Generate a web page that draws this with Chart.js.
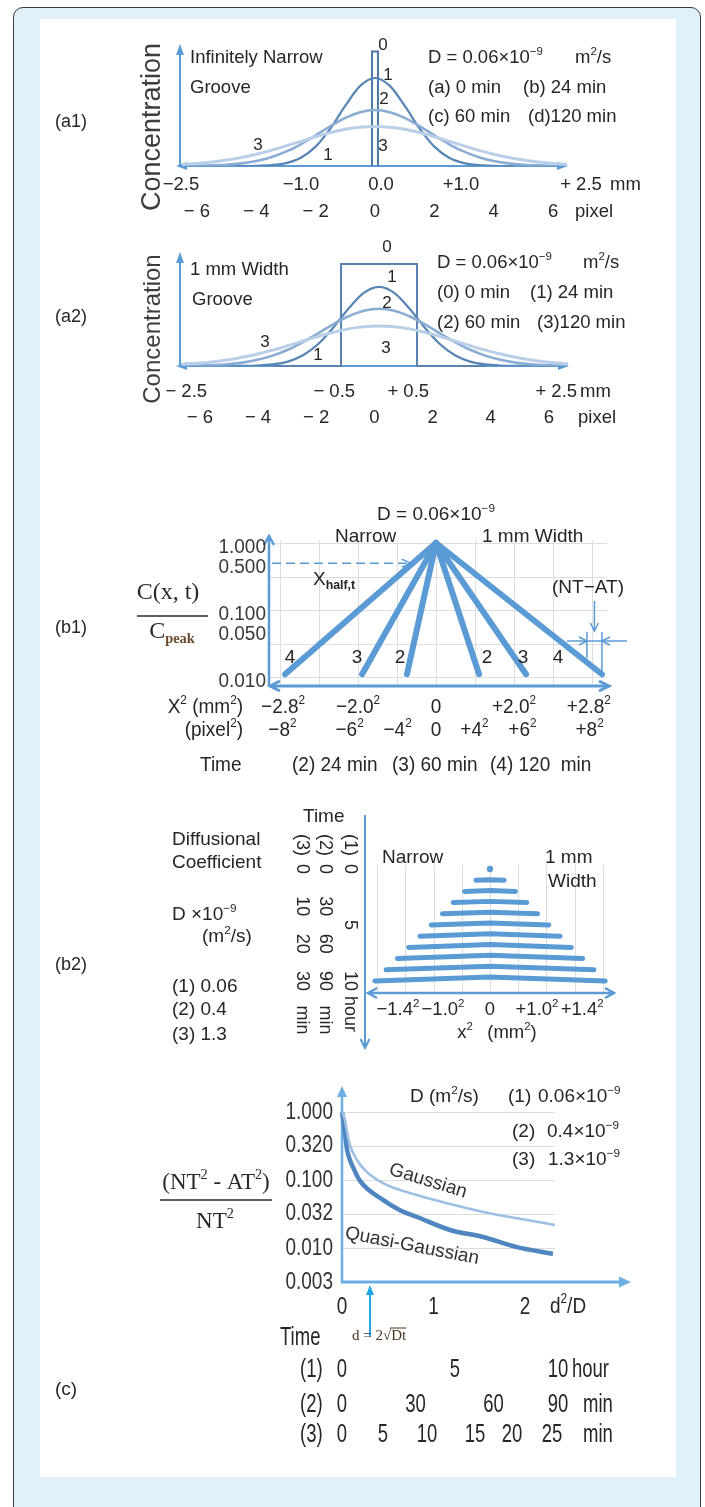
<!DOCTYPE html>
<html>
<head>
<meta charset="utf-8">
<title>Groove diffusion profiles</title>
<script src="https://cdn.jsdelivr.net/npm/chart.js@4.4.1/dist/chart.umd.min.js"></script>
<style>
  html, body { margin: 0; padding: 0; background: #ffffff; }
  #page { position: relative; width: 705px; height: 1507px; overflow: hidden; }
  #frame { position: absolute; left: 13px; top: 7px; width: 688px; height: 1560px; box-sizing: border-box;
           border: 1.5px solid #3c3c3c; border-radius: 10px; background: #e0f1fb; }
  #sheet { position: absolute; left: 40px; top: 19px; width: 636px; height: 1458px; background: #ffffff; }
  canvas { position: absolute; left: 0; top: 0; }
</style>
</head>
<body>
<div id="page">
  <div id="frame"></div>
  <div id="sheet"></div>
  <canvas id="cA1" width="705" height="1507"></canvas>
  <canvas id="cA2" width="705" height="1507"></canvas>
  <canvas id="cB1" width="705" height="1507"></canvas>
  <canvas id="cB2" width="705" height="1507"></canvas>
  <canvas id="cC" width="705" height="1507"></canvas>
</div>
<script>
// ---------- (a1) infinitely narrow groove: concentration vs position (pixel units) ----------
const a1X    = [-6.5, -6, -5.5, -5, -4.5, -4, -3.5, -3, -2.5, -2, -1.5, -1, -0.5, 0, 0.5, 1, 1.5, 2, 2.5, 3, 3.5, 4, 4.5, 5, 5.5, 6, 6.5];
const a1C24  = [0, 0, 0, 0, 0, 0.002, 0.010, 0.033, 0.094, 0.220, 0.427, 0.685, 0.910, 1.000, 0.910, 0.685, 0.427, 0.220, 0.094, 0.033, 0.010, 0.002, 0, 0, 0, 0, 0];
const a1C60  = [0.001, 0.003, 0.007, 0.015, 0.030, 0.057, 0.100, 0.163, 0.247, 0.348, 0.453, 0.547, 0.612, 0.636, 0.612, 0.547, 0.453, 0.348, 0.247, 0.163, 0.100, 0.057, 0.030, 0.015, 0.007, 0.003, 0.001];
const a1C120 = [0.018, 0.029, 0.046, 0.068, 0.097, 0.134, 0.178, 0.228, 0.280, 0.332, 0.380, 0.417, 0.441, 0.450, 0.441, 0.417, 0.380, 0.332, 0.280, 0.228, 0.178, 0.134, 0.097, 0.068, 0.046, 0.029, 0.018];
const a1GrooveX = [-0.1, -0.1, 0.1, 0.1];
const a1GrooveC = [0, 1.30, 1.30, 0];
const a1MmTicks  = [-2.5, -1, 0, 1, 2.5];
const a1MmLabels = ['−2.5', '−1.0', '0.0', '+1.0', '+ 2.5'];
const a1PxTicks  = [-6, -4, -2, 0, 2, 4, 6];
const a1PxLabels = ['− 6', '− 4', '− 2', '0', '2', '4', '6'];

// ---------- (a2) 1 mm wide groove: concentration vs position (mm) ----------
const a2X    = [-2.6, -2.4, -2.2, -2.0, -1.8, -1.6, -1.4, -1.2, -1.0, -0.8, -0.6, -0.4, -0.2, 0, 0.2, 0.4, 0.6, 0.8, 1.0, 1.2, 1.4, 1.6, 1.8, 2.0, 2.2, 2.4, 2.6];
const a2C24  = [0, 0, 0, 0, 0.001, 0.005, 0.018, 0.050, 0.122, 0.250, 0.438, 0.654, 0.831, 0.900, 0.831, 0.654, 0.438, 0.250, 0.122, 0.050, 0.018, 0.005, 0.001, 0, 0, 0, 0];
const a2C60  = [0.002, 0.004, 0.010, 0.020, 0.038, 0.070, 0.118, 0.185, 0.272, 0.372, 0.475, 0.565, 0.628, 0.650, 0.628, 0.565, 0.475, 0.372, 0.272, 0.185, 0.118, 0.070, 0.038, 0.020, 0.010, 0.004, 0.002];
const a2C120 = [0.019, 0.030, 0.046, 0.069, 0.099, 0.136, 0.180, 0.231, 0.284, 0.336, 0.384, 0.422, 0.446, 0.455, 0.446, 0.422, 0.384, 0.336, 0.284, 0.231, 0.180, 0.136, 0.099, 0.069, 0.046, 0.030, 0.019];
const a2BoxX = [-1.4, -0.5, -0.5, 0.5, 0.5, 1.4];
const a2BoxC = [0, 0, 1.16, 1.16, 0, 0];
const a2MmTicks  = [-2.5, -0.5, 0.5, 2.5];
const a2MmLabels = ['− 2.5', '− 0.5', '+ 0.5', '+ 2.5'];
const a2PxTicks  = [-6, -4, -2, 0, 2, 4, 6];
const a2PxLabels = ['− 6', '− 4', '− 2', '0', '2', '4', '6'];

// ---------- (b1) log C/Cpeak vs signed x² ----------
const b1NarrowEnd  = [-1.49, -3.79, -7.74];      // x² (mm²) where the narrow-groove line reaches b1EndLevel (24, 60, 120 min)
const b1WidthEnd   = [2.21, 4.62, 8.51];         // same for the 1 mm groove
const b1EndLevel   = 0.011;
const b1YTicks     = [1, 0.5, 0.1, 0.05, 0.01];
const b1YLabels    = ['1.000', '0.500', '0.100', '0.050', '0.010'];
const b1XTicks     = [-7.84, -4, 0, 4, 7.84];
const b1XLabels    = ['−2.8^{2}', '−2.0^{2}', '0', '+2.0^{2}', '+2.8^{2}'];
const b1PxTicks    = [-64, -36, -16, 0, 16, 36, 64];
const b1PxLabels   = ['−8^{2}', '−6^{2}', '−4^{2}', '0', '+4^{2}', '+6^{2}', '+8^{2}'];
const b1GridX      = [-8, -6, -4, -2, 0, 2, 4, 6, 8];
const b1GridY      = [1, 0.316, 0.1, 0.0316, 0.01];

// ---------- (b2) stacked profiles vs time ----------
const b2Hours     = [0, 1, 2, 3, 4, 5, 6, 7, 8, 9, 10];
const b2HalfWidth = [0, 0.30, 0.54, 0.78, 1.01, 1.25, 1.49, 1.73, 1.97, 2.21, 2.45];
const b2Rise      = [0, 0.04, 0.07, 0.11, 0.14, 0.18, 0.22, 0.25, 0.29, 0.32, 0.36];
const b2XTicks    = [-1.96, -1, 0, 1, 1.96];
const b2XLabels   = ['−1.4^{2}', '−1.0^{2}', '0', '+1.0^{2}', '+1.4^{2}'];
const b2GridX     = [-2.4, -1.8, -1.2, -0.6, 0, 0.6, 1.2, 1.8, 2.4];
const b2Col1At    = [0, 3.33, 6.67, 10];  const b2Col1Labels = ['0', '10', '20', '30'];
const b2Col2At    = [0, 3.33, 6.67, 10];  const b2Col2Labels = ['0', '30', '60', '90'];
const b2Col3At    = [0, 5, 10];           const b2Col3Labels = ['0', '5', '10'];

// ---------- (c) (NT²−AT²)/NT² vs d²/D ----------
const cGaussX = [0, 0.011, 0.033, 0.055, 0.087, 0.164, 0.251, 0.448, 0.820, 1.180, 1.650, 2.022, 2.328];
const cGauss  = [1.0, 0.93, 0.76, 0.51, 0.327, 0.197, 0.140, 0.090, 0.060, 0.0444, 0.0316, 0.0258, 0.0218];
const cQuasiX = [0, 0.011, 0.022, 0.055, 0.087, 0.120, 0.197, 0.448, 0.634, 0.820, 1.180, 1.541, 1.913, 2.306];
const cQuasi  = [1.0, 0.82, 0.64, 0.28, 0.197, 0.155, 0.097, 0.051, 0.036, 0.0286, 0.0184, 0.0145, 0.0103, 0.0082];
const cYTicks  = [1, 0.32, 0.1, 0.032, 0.01, 0.003162];
const cYLabels = ['1.000', '0.320', '0.100', '0.032', '0.010', '0.003'];
const cGridY   = [1, 0.316, 0.1, 0.0316, 0.01];
const cXTicks  = [0, 1, 2];
const cT1At = [0, 1.235, 2.36];                          const cT1Labels = ['0', '5', '10'];
const cT2At = [0, 0.803, 1.656, 2.36];                   const cT2Labels = ['0', '30', '60', '90'];
const cT3At = [0, 0.448, 0.929, 1.454, 1.858, 2.295];    const cT3Labels = ['0', '5', '10', '15', '20', '25'];

// ---------- drawing helpers ----------
const W = 705, H = 1507;
const SANS = '"Liberation Sans", Arial, "DejaVu Sans", sans-serif';
const SERIF = '"Liberation Serif", "Times New Roman", "DejaVu Serif", serif';
const INK = '#262626';
const AXIS = '#5b9bd5';
Chart.defaults.font.family = SANS;

// text with ^{sup} and _{sub} runs
function rich(ctx, str, x, y, o) {
  o = o || {};
  const size = o.size || 18.5, fam = o.family || SANS, wt = o.weight || 'normal';
  const parts = [];
  const re = /\^\{([^}]*)\}|_\{([^}]*)\}|([^\^_]+)/g;
  let m;
  while ((m = re.exec(str)) !== null) {
    if (m[1] !== undefined) parts.push({ t: m[1], s: size * 0.62, dy: -size * 0.34, w: wt, c: o.color });
    else if (m[2] !== undefined) parts.push({ t: m[2], s: size * (o.subScale || 0.62), dy: size * 0.3, w: o.subWeight || wt, c: o.subColor || o.color });
    else parts.push({ t: m[3], s: size, dy: 0, w: wt, c: o.color });
  }
  ctx.save();
  ctx.textBaseline = 'middle';
  let total = 0;
  parts.forEach(p => { ctx.font = `${p.w} ${p.s}px ${fam}`; p.wd = ctx.measureText(p.t).width; total += p.wd; });
  ctx.translate(x, y);
  if (o.rotate) ctx.rotate(o.rotate * Math.PI / 180);
  if (o.sy) ctx.scale(1, o.sy);
  let cx = o.align === 'center' ? -total / 2 : o.align === 'right' ? -total : 0;
  parts.forEach(p => { ctx.font = `${p.w} ${p.s}px ${fam}`; ctx.fillStyle = p.c || INK; ctx.fillText(p.t, cx, p.dy); cx += p.wd; });
  ctx.restore();
  return total;
}

function arrow(ctx, x1, y1, x2, y2, o) {
  o = o || {};
  const col = o.color || AXIS, lw = o.width || 2, L = o.head || 10, Hw = o.hw || 4;
  const a = Math.atan2(y2 - y1, x2 - x1), ca = Math.cos(a), sa = Math.sin(a);
  ctx.save();
  ctx.strokeStyle = col; ctx.fillStyle = col; ctx.lineWidth = lw; ctx.lineCap = 'butt';
  const trim = o.open ? 0 : L * 0.7;
  ctx.setLineDash(o.dash || []);
  ctx.beginPath();
  ctx.moveTo(x1 + (o.both ? trim * ca : 0), y1 + (o.both ? trim * sa : 0));
  ctx.lineTo(x2 - trim * ca, y2 - trim * sa);
  ctx.stroke();
  ctx.setLineDash([]);
  const head = (x, y, c, s) => {
    ctx.beginPath();
    ctx.moveTo(x - L * c + Hw * s, y - L * s - Hw * c);
    ctx.lineTo(x, y);
    ctx.lineTo(x - L * c - Hw * s, y - L * s + Hw * c);
    if (o.open) { ctx.lineWidth = o.headWidth || lw; ctx.stroke(); } else { ctx.closePath(); ctx.fill(); }
  };
  head(x2, y2, ca, sa);
  if (o.both) head(x1, y1, -ca, -sa);
  ctx.restore();
}

function line(ctx, x1, y1, x2, y2, color, w) {
  ctx.save(); ctx.strokeStyle = color; ctx.lineWidth = w;
  ctx.beginPath(); ctx.moveTo(x1, y1); ctx.lineTo(x2, y2); ctx.stroke(); ctx.restore();
}
function vgrid(ctx, sx, vals, y1, y2) {
  vals.forEach(v => { const x = Math.round(sx.getPixelForValue(v)) + 0.5; line(ctx, x, y1, x, y2, '#dedede', 1); });
}
function hgrid(ctx, sy, vals, x1, x2) {
  vals.forEach(v => { const y = Math.round(sy.getPixelForValue(v)) + 0.5; line(ctx, x1, y, x2, y, '#dedede', 1); });
}
function tickRow(ctx, scale, vals, labels, y, o) {
  vals.forEach((v, i) => rich(ctx, labels[i], scale.getPixelForValue(v), y, Object.assign({ align: 'center' }, o)));
}
function tickCol(ctx, scale, vals, labels, x, o) {
  const dy = (o && o.dy) || 0;
  vals.forEach((v, i) => rich(ctx, labels[i], x, scale.getPixelForValue(v) + dy, Object.assign({ align: 'right' }, o)));
}

function lin(min, max, axis, extra) {
  return Object.assign({ type: 'linear', display: false, min, max, axis: axis || 'x', position: axis === 'y' ? 'left' : 'bottom' }, extra || {});
}
function logs(min, max) { return { type: 'logarithmic', display: false, min, max, axis: 'y', position: 'left' }; }
function pts(xs, ys) { return xs.map((x, i) => ({ x, y: ys[i] })); }
function curve(xs, ys, color, w) {
  return { data: pts(xs, ys), showLine: true, borderColor: color, borderWidth: w, pointRadius: 0, cubicInterpolationMode: 'monotone', fill: false };
}
function seg(p, color, w) {
  return { data: p, showLine: true, borderColor: color, borderWidth: w, pointRadius: 0, borderCapStyle: 'round', borderJoinStyle: 'round', fill: false, clip: false };
}

function panel(id, cfg) {
  return new Chart(document.getElementById(id), {
    type: 'scatter',
    data: { datasets: cfg.datasets },
    options: {
      responsive: false, animation: false, devicePixelRatio: 1, events: [],
      layout: { padding: { left: cfg.area[0], top: cfg.area[1], right: W - cfg.area[2], bottom: H - cfg.area[3] } },
      scales: cfg.scales,
      plugins: { legend: { display: false }, tooltip: { enabled: false }, title: { display: false } }
    },
    plugins: [{
      id: 'ink_' + id,
      beforeDatasetsDraw(c) { if (cfg.under) cfg.under(c.ctx, c.scales); },
      afterDatasetsDraw(c) { if (cfg.over) cfg.over(c.ctx, c.scales); }
    }]
  });
}

// ---------- (a1) ----------
panel('cA1', {
  area: [177, 48, 567, 166],
  scales: { x: lin(-6.673, 6.471), y: lin(0, 1.341, 'y'), xmm: lin(-2.55, 2.325) },
  datasets: [
    curve(a1X, a1C120, '#b9cfe7', 3),
    curve(a1X, a1C60, '#8badd4', 2.6),
    curve(a1X, a1C24, '#5785b5', 2.2),
    Object.assign(seg(pts(a1GrooveX, a1GrooveC), '#4c78a9', 2), { borderCapStyle: 'butt', borderJoinStyle: 'miter' })
  ],
  under(ctx) {
    arrow(ctx, 180, 166, 180, 44, { width: 2, head: 11, hw: 4 });
    arrow(ctx, 176, 166, 568, 166, { width: 2, head: 11, hw: 4, both: true });
  },
  over(ctx, s) {
    rich(ctx, 'Concentration', 153, 127, { size: 27, rotate: -90, align: 'center', color: '#3d3d3d' });
    rich(ctx, '(a1)', 55, 122, { size: 18 });
    rich(ctx, 'Infinitely Narrow', 190, 58);
    rich(ctx, 'Groove', 190, 88);
    [['0', 383, 45], ['1', 388, 75], ['2', 384, 99], ['3', 383, 146], ['3', 258, 145], ['1', 328, 155]]
      .forEach(t => rich(ctx, t[0], t[1], t[2], { size: 17, align: 'center' }));
    rich(ctx, 'D = 0.06×10^{−9}', 428, 58);
    rich(ctx, 'm^{2}/s', 575, 58);
    rich(ctx, '(a) 0 min', 428, 88); rich(ctx, '(b) 24 min', 523, 88);
    rich(ctx, '(c) 60 min', 428, 117); rich(ctx, '(d)120 min', 528, 117);
    tickRow(ctx, s.xmm, a1MmTicks, a1MmLabels, 185);
    rich(ctx, 'mm', 610, 185);
    tickRow(ctx, s.x, a1PxTicks, a1PxLabels, 212);
    rich(ctx, 'pixel', 575, 212);
  }
});

// ---------- (a2) ----------
panel('cA2', {
  area: [177, 255, 568, 366],
  scales: { x: lin(-2.658, 2.487), y: lin(0, 1.261, 'y'), xmm: lin(-2.625, 2.659), xpx: lin(-6.786, 6.655) },
  datasets: [
    curve(a2X, a2C120, '#b9cfe7', 3),
    curve(a2X, a2C60, '#8badd4', 2.6),
    curve(a2X, a2C24, '#5785b5', 2.2),
    Object.assign(seg(pts(a2BoxX, a2BoxC), '#5a83b1', 2), { borderCapStyle: 'butt', borderJoinStyle: 'miter' })
  ],
  under(ctx) {
    arrow(ctx, 180, 366, 180, 252, { width: 2, head: 11, hw: 4 });
    arrow(ctx, 176, 366, 569, 366, { width: 2, head: 11, hw: 4, both: true });
  },
  over(ctx, s) {
    rich(ctx, 'Concentration', 153, 329, { size: 24, rotate: -90, align: 'center', color: '#3d3d3d' });
    rich(ctx, '(a2)', 55, 317, { size: 18 });
    rich(ctx, '1 mm Width', 190, 270);
    rich(ctx, 'Groove', 192, 300);
    [['0', 387, 247], ['1', 392, 277], ['2', 387, 303], ['3', 386, 348], ['3', 265, 342], ['1', 318, 355]]
      .forEach(t => rich(ctx, t[0], t[1], t[2], { size: 17, align: 'center' }));
    rich(ctx, 'D = 0.06×10^{−9}', 437, 263);
    rich(ctx, 'm^{2}/s', 583, 263);
    rich(ctx, '(0) 0 min', 437, 293); rich(ctx, '(1) 24 min', 530, 293);
    rich(ctx, '(2) 60 min', 437, 323); rich(ctx, '(3)120 min', 537, 323);
    tickRow(ctx, s.xmm, a2MmTicks, a2MmLabels, 392);
    rich(ctx, 'mm', 580, 392);
    tickRow(ctx, s.xpx, a2PxTicks, a2PxLabels, 418);
    rich(ctx, 'pixel', 578, 418);
  }
});

// ---------- (b1) ----------
const b1Data = [];
b1NarrowEnd.forEach(v => b1Data.push(seg([{ x: 0, y: 1 }, { x: v, y: b1EndLevel }], '#5b9bd5', 6)));
b1WidthEnd.forEach(v => b1Data.push(seg([{ x: 0, y: 1 }, { x: v, y: b1EndLevel }], '#5b9bd5', 6)));
panel('cB1', {
  area: [269, 540, 607, 685],
  scales: { x: lin(-8.564, 8.769), y: logs(0.0076, 1.108), xpx: lin(-69.58, 71.25) },
  datasets: b1Data,
  under(ctx, s) {
    vgrid(ctx, s.x, b1GridX, 540, 685);
    hgrid(ctx, s.y, b1GridY, 269, 607);
    arrow(ctx, 269, 686, 269, 536, { width: 2.5, head: 9, hw: 5, open: true });
    arrow(ctx, 270, 686, 609, 686, { width: 3, head: 10, hw: 5, both: true, open: true });
  },
  over(ctx, s) {
    rich(ctx, '(b1)', 55, 628, { size: 18 });
    rich(ctx, 'D = 0.06×10^{−9}', 436, 515, { align: 'center', size: 19 });
    rich(ctx, 'Narrow', 335, 537, { size: 19 });
    rich(ctx, '1 mm Width', 482, 537, { size: 19 });
    tickCol(ctx, s.y, b1YTicks, b1YLabels, 266, { size: 19, sy: 1.1, color: '#3a3a3a', dy: 4 });
    // y-axis title as a fraction
    rich(ctx, 'C(x, t)', 168, 593, { family: SERIF, size: 24, align: 'center', color: '#2a2a2a' });
    line(ctx, 137, 616, 208, 616, '#2a2a2a', 1.5);
    rich(ctx, 'C_{peak}', 172, 632, { family: SERIF, size: 24, align: 'center', color: '#2a2a2a', subWeight: 'bold', subScale: 0.6, subColor: '#6a4a2e' });
    // half-height reading at 120 min
    const yHalf = s.y.getPixelForValue(0.5);
    const xHalf = s.x.getPixelForValue(b1NarrowEnd[2] * Math.log(0.5) / Math.log(b1EndLevel));
    arrow(ctx, 272, yHalf, xHalf - 2, yHalf, { width: 1.5, dash: [9, 5], head: 9, hw: 4, open: true });
    rich(ctx, 'X_{half,t}', 313, 580, { size: 19, subWeight: 'bold', subScale: 0.65 });
    // NT−AT gap between the two 120 min lines
    const xN = s.x.getPixelForValue(-b1NarrowEnd[2]);
    const xW = s.x.getPixelForValue(b1WidthEnd[2]);
    line(ctx, xN, 632, xN, 658, AXIS, 1.5);
    line(ctx, xW, 632, xW, 675, AXIS, 1.5);
    arrow(ctx, 567, 641, xN, 641, { width: 1.5, head: 8, hw: 4, open: true });
    arrow(ctx, 627, 641, xW, 641, { width: 1.5, head: 8, hw: 4, open: true });
    line(ctx, xN, 641, xW, 641, AXIS, 1.5);
    arrow(ctx, (xN + xW) / 2, 601, (xN + xW) / 2, 631, { width: 1.5, head: 8, hw: 4, open: true });
    rich(ctx, '(NT−AT)', 588, 588, { size: 19, align: 'center' });
    // line tags
    [[290, '4'], [357, '3'], [400, '2'], [487, '2'], [523, '3'], [558, '4']]
      .forEach(t => rich(ctx, t[1], t[0], 658, { size: 19, align: 'center' }));
    rich(ctx, 'X^{2} (mm^{2})', 243, 707, { size: 19, align: 'right', sy: 1.08 });
    tickRow(ctx, s.x, b1XTicks, b1XLabels, 707, { size: 19, sy: 1.08 });
    rich(ctx, '(pixel^{2})', 243, 730, { size: 19, align: 'right', sy: 1.08 });
    tickRow(ctx, s.xpx, b1PxTicks, b1PxLabels, 730, { size: 19, sy: 1.08 });
    rich(ctx, 'Time', 200, 765, { size: 19, sy: 1.1 });
    rich(ctx, '(2) 24 min', 292, 765, { size: 19, sy: 1.1 });
    rich(ctx, '(3) 60 min', 392, 765, { size: 19, sy: 1.1 });
    rich(ctx, '(4) 120  min', 490, 765, { size: 19, sy: 1.1 });
  }
});

// ---------- (b2) ----------
const b2Data = b2Hours.map((t, k) => {
  if (b2HalfWidth[k] === 0) {
    return { data: [{ x: 0, y: t }], showLine: false, pointRadius: 3.2, pointBackgroundColor: '#5b9bd5', pointBorderWidth: 0, clip: false };
  }
  return seg([{ x: -b2HalfWidth[k], y: t }, { x: 0, y: t - b2Rise[k] }, { x: b2HalfWidth[k], y: t }], '#5b9bd5', 5);
});
panel('cB2', {
  area: [368, 865, 613, 992],
  scales: { x: lin(-2.596, 2.617), y: lin(-0.357, 10.98, 'y', { reverse: true }) },
  datasets: b2Data,
  under(ctx, s) {
    vgrid(ctx, s.x, b2GridX, 865, 992);
    arrow(ctx, 365, 815, 365, 1048, { width: 2, head: 9, hw: 4.5, open: true });
    arrow(ctx, 368, 993, 614, 993, { width: 2.5, head: 9, hw: 5, both: true, open: true });
  },
  over(ctx, s) {
    rich(ctx, '(b2)', 55, 965, { size: 18 });
    rich(ctx, 'Diffusional', 172, 840, { size: 19 });
    rich(ctx, 'Coefficient', 172, 863, { size: 19 });
    rich(ctx, 'D ×10^{−9}', 172, 915, { size: 19 });
    rich(ctx, '(m^{2}/s)', 202, 937, { size: 19 });
    rich(ctx, '(1) 0.06', 172, 987, { size: 19 });
    rich(ctx, '(2) 0.4', 172, 1010, { size: 19 });
    rich(ctx, '(3) 1.3', 172, 1035, { size: 19 });
    rich(ctx, 'Time', 303, 817, { size: 19 });
    const col = (x, head, at, labels, unit, unitY) => {
      rich(ctx, head, x, 845, { size: 18, rotate: 90, align: 'center' });
      at.forEach((v, i) => rich(ctx, labels[i], x, s.y.getPixelForValue(v), { size: 18, rotate: 90, align: 'center' }));
      rich(ctx, unit, x, unitY, { size: 18, rotate: 90, align: 'center' });
    };
    col(302, '(3)', b2Col1At, b2Col1Labels, 'min', 1020);
    col(325, '(2)', b2Col2At, b2Col2Labels, 'min', 1020);
    col(350, '(1)', b2Col3At, b2Col3Labels, 'hour', 1014);
    rich(ctx, 'Narrow', 382, 858, { size: 19 });
    rich(ctx, '1 mm', 545, 858, { size: 19 });
    rich(ctx, 'Width', 548, 882, { size: 19 });
    tickRow(ctx, s.x, b2XTicks, b2XLabels, 1010, { size: 18.5 });
    rich(ctx, 'x^{2}', 465, 1033, { size: 18.5, align: 'center' });
    rich(ctx, '(mm^{2})', 512, 1033, { size: 18.5, align: 'center' });
  }
});

// ---------- (c) ----------
panel('cC', {
  area: [342, 1105, 555, 1282],
  scales: { x: lin(0, 2.328), y: logs(0.003162, 1.268) },
  datasets: [
    Object.assign(curve(cGaussX, cGauss, '#9cbfe3', 2.6), { clip: false }),
    Object.assign(curve(cQuasiX, cQuasi, '#4f86c1', 4.5), { clip: false })
  ],
  under(ctx, s) {
    hgrid(ctx, s.y, cGridY, 342, 555);
    arrow(ctx, 342, 1283, 342, 1086, { width: 2.5, head: 11, hw: 5, color: '#6aaee2' });
    arrow(ctx, 341, 1282, 631, 1282, { width: 3, head: 12, hw: 5.5, color: '#6aaee2' });
  },
  over(ctx, s) {
    rich(ctx, '(c)', 55, 1390, { size: 19 });
    tickCol(ctx, s.y, cYTicks, cYLabels, 333, { size: 19, sy: 1.25, color: '#333' });
    tickRow(ctx, s.x, cXTicks, ['0', '1', '2'], 1307, { size: 19, sy: 1.3 });
    rich(ctx, 'd^{2}/D', 550, 1307, { size: 19, sy: 1.2 });
    rich(ctx, 'D (m^{2}/s)', 410, 1097, { size: 19 });
    rich(ctx, '(1)', 508, 1097, { size: 19 }); rich(ctx, '0.06×10^{−9}', 538, 1097, { size: 19 });
    rich(ctx, '(2)', 512, 1132, { size: 19 }); rich(ctx, '0.4×10^{−9}', 547, 1132, { size: 19 });
    rich(ctx, '(3)', 512, 1160, { size: 19 }); rich(ctx, '1.3×10^{−9}', 548, 1160, { size: 19 });
    rich(ctx, 'Gaussian', 428, 1181, { size: 19, rotate: 17, align: 'center', color: '#333' });
    rich(ctx, 'Quasi-Gaussian', 412, 1246, { size: 19, rotate: 11, align: 'center', color: '#333' });
    // y-axis title as a fraction
    rich(ctx, '(NT^{2} - AT^{2})', 216, 1183, { family: SERIF, size: 23, align: 'center', color: '#2a2a2a' });
    line(ctx, 160, 1200, 272, 1200, '#2a2a2a', 1.5);
    rich(ctx, 'NT^{2}', 215, 1222, { family: SERIF, size: 23, align: 'center', color: '#2a2a2a' });
    // d = 2√(Dt) marker
    arrow(ctx, 370, 1337, 370, 1285, { width: 2, head: 10, hw: 4, color: '#22a6e8' });
    ctx.save();
    ctx.font = `15px ${SERIF}`; ctx.fillStyle = '#4a3422'; ctx.textBaseline = 'middle';
    const pre = 'd = 2√', w1 = ctx.measureText(pre).width, w2 = ctx.measureText('Dt').width;
    ctx.fillText(pre, 352, 1336); ctx.fillText('Dt', 352 + w1, 1336);
    line(ctx, 352 + w1 - 1, 1328, 352 + w1 + w2, 1328, '#4a3422', 1);
    ctx.restore();
    const big = { size: 18.5, sy: 1.42 };
    rich(ctx, 'Time', 280, 1338, big);
    rich(ctx, '(1)', 300, 1370, big); tickRow(ctx, s.x, cT1At, cT1Labels, 1370, big); rich(ctx, 'hour', 572, 1370, big);
    rich(ctx, '(2)', 300, 1405, big); tickRow(ctx, s.x, cT2At, cT2Labels, 1405, big); rich(ctx, 'min', 583, 1405, big);
    rich(ctx, '(3)', 300, 1435, big); tickRow(ctx, s.x, cT3At, cT3Labels, 1435, big); rich(ctx, 'min', 583, 1435, big);
  }
});
</script>
</body>
</html>
